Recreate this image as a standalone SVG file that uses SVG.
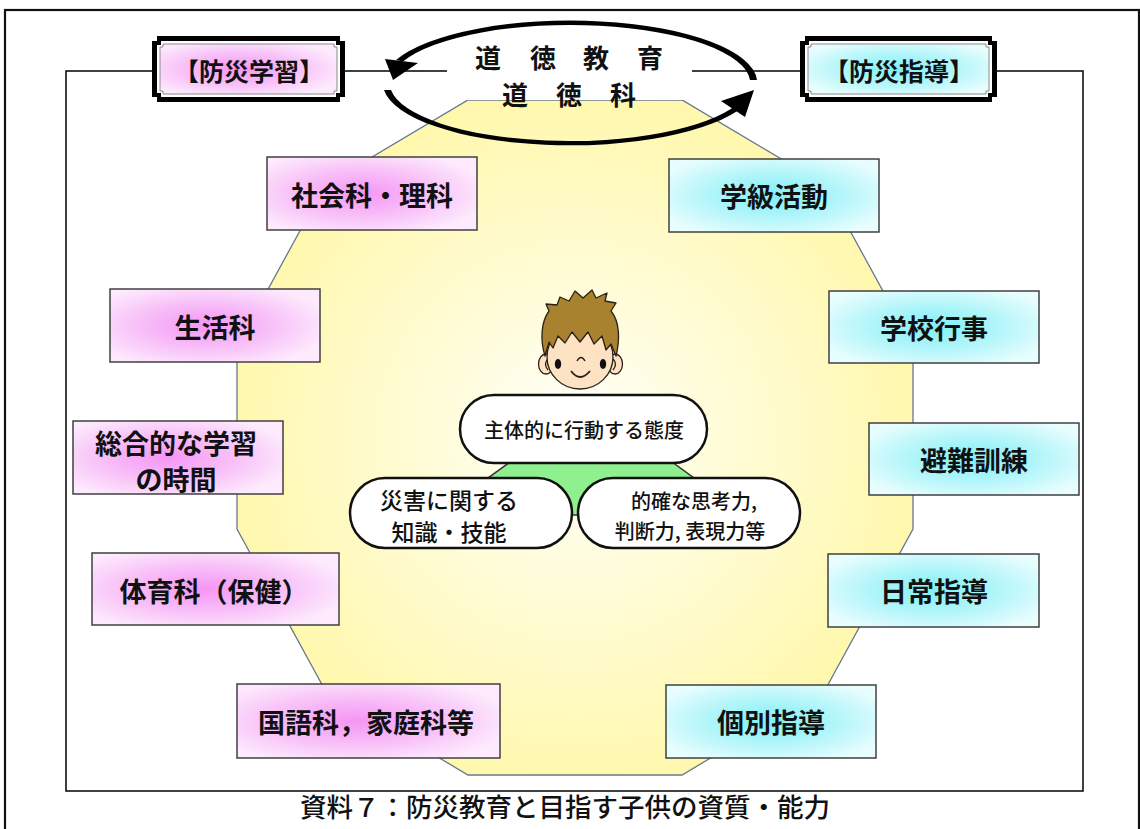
<svg xmlns="http://www.w3.org/2000/svg" width="1140" height="829" viewBox="0 0 1140 829">
  <style>
    .jp { font-family: "Noto Sans CJK JP", "Noto Sans", sans-serif; fill: #111; }
    .lbl { font-size: 27px; font-weight: 700; text-anchor: middle; dominant-baseline: central; }
    .hdr { font-size: 25px; font-weight: 700; text-anchor: middle; dominant-baseline: central; }
    .moral { font-size: 26px; font-weight: 700; text-anchor: middle; dominant-baseline: central; }
    .bub { font-weight: 500; text-anchor: middle; dominant-baseline: central; }
    .box { stroke: #404040; stroke-width: 1.5; }
    .pill { fill: #fff; stroke: #111; stroke-width: 2.5; }
    .frame { fill: none; stroke: #111; }
  </style>
  <defs>
    <radialGradient id="pinkFill" cx="45%" cy="50%" r="60%">
      <stop offset="0" stop-color="#f595f5"/>
      <stop offset="0.55" stop-color="#f8c2f8"/>
      <stop offset="1" stop-color="#fdeafd"/>
    </radialGradient>
    <radialGradient id="cyanFill" cx="50%" cy="50%" r="60%">
      <stop offset="0" stop-color="#7ef0f8"/>
      <stop offset="0.55" stop-color="#b6f6fa"/>
      <stop offset="1" stop-color="#e8fdfe"/>
    </radialGradient>
    <radialGradient id="fieldFill" cx="575" cy="440" r="380" gradientUnits="userSpaceOnUse">
      <stop offset="0" stop-color="#ffffff"/>
      <stop offset="0.3" stop-color="#fffde0"/>
      <stop offset="1" stop-color="#fff7a6"/>
    </radialGradient>
  </defs>

  <rect width="1140" height="829" fill="#fff"/>

  <!-- outer page border -->
  <rect class="frame" x="5" y="10" width="1134" height="830" stroke-width="2.2"/>

  <!-- connectors: the frame linking the two headings -->
  <g id="connectors">
    <rect class="frame" x="66" y="71" width="1017" height="720" stroke-width="1.6"/>
  </g>

  <!-- central field -->
  <g id="field">
    <polygon points="468,100 682,100 825,185 913,346 913,529 825,690 682,775 468,775 325,690 237,529 237,346 325,185"
             fill="url(#fieldFill)" stroke="#687890" stroke-width="1.3"/>
  </g>

  <!-- moral education cycle -->
  <g id="moral-cycle">
    <rect x="447" y="42" width="245" height="58" fill="#fff"/>
    <!-- upper arc, right to left -->
    <path d="M757,80 A187,62 0 0 0 396,60 L403,61.5 A180,58 0 0 1 750,80 Z" fill="#000"/>
    <polygon points="385,59 418,63 393,80" fill="#000"/>
    <!-- lower arc, left to right -->
    <path d="M384,90 A187,62 0 0 0 744,106 L737,104.5 A180,58 0 0 1 391,90 Z" fill="#000"/>
    <polygon points="721,101 745,117 754,90" fill="#000"/>
    <text class="jp moral" x="488 543 596 650" y="56">道徳教育</text>
    <text class="jp moral" x="515 569 623" y="93">道徳科</text>
  </g>

  <!-- headings -->
  <g id="head-learning">
    <path d="M157,36 H340 V41 H345 V97 H340 V102 H157 V97 H152 V41 H157 Z" fill="#000"/>
    <path d="M161,41 H336 V45 H340 V93 H336 V97 H161 V93 H157 V45 H161 Z" fill="#fff"/>
    <path d="M163,44 H334 V47 H337 V91 H334 V94 H163 V91 H160 V47 H163 Z" fill="url(#pinkFill)" stroke="#8a8a8a" stroke-width="1"/>
    <text class="jp hdr" x="249" y="70">【防災学習】</text>
  </g>
  <g id="head-guidance">
    <path d="M805,36 H992 V41 H997 V97 H992 V102 H805 V97 H800 V41 H805 Z" fill="#000"/>
    <path d="M809,41 H988 V45 H992 V93 H988 V97 H809 V93 H805 V45 H809 Z" fill="#fff"/>
    <path d="M811,44 H986 V47 H989 V91 H986 V94 H811 V91 H808 V47 H811 Z" fill="url(#cyanFill)" stroke="#8a8a8a" stroke-width="1"/>
    <text class="jp hdr" x="899" y="70">【防災指導】</text>
  </g>

  <!-- learning subjects -->
  <g id="social-science">
    <rect class="box" x="267" y="157" width="210" height="73" fill="url(#pinkFill)"/>
    <text class="jp lbl" x="372" y="194">社会科・理科</text>
  </g>
  <g id="life-environment">
    <rect class="box" x="110" y="289" width="210" height="73" fill="url(#pinkFill)"/>
    <text class="jp lbl" x="215" y="326">生活科</text>
  </g>
  <g id="integrated-study">
    <rect class="box" x="73" y="421" width="210" height="73" fill="url(#pinkFill)"/>
    <text class="jp lbl" x="176" y="442">総合的な学習</text>
    <text class="jp lbl" x="176" y="478">の時間</text>
  </g>
  <g id="physical-education">
    <rect class="box" x="92" y="553" width="247" height="72" fill="url(#pinkFill)"/>
    <text class="jp lbl" x="214" y="590">体育科（保健）</text>
  </g>
  <g id="language-home">
    <rect class="box" x="237" y="684" width="263" height="74" fill="url(#pinkFill)"/>
    <text class="jp lbl" x="366" y="721">国語科，家庭科等</text>
  </g>

  <!-- guidance activities -->
  <g id="class-activity">
    <rect class="box" x="669" y="159" width="210" height="73" fill="url(#cyanFill)"/>
    <text class="jp lbl" x="774" y="195">学級活動</text>
  </g>
  <g id="school-event">
    <rect class="box" x="829" y="291" width="210" height="72" fill="url(#cyanFill)"/>
    <text class="jp lbl" x="934" y="327">学校行事</text>
  </g>
  <g id="evacuation-drill">
    <rect class="box" x="869" y="423" width="210" height="72" fill="url(#cyanFill)"/>
    <text class="jp lbl" x="974" y="459">避難訓練</text>
  </g>
  <g id="daily-guidance">
    <rect class="box" x="828" y="554" width="211" height="73" fill="url(#cyanFill)"/>
    <text class="jp lbl" x="934" y="590">日常指導</text>
  </g>
  <g id="individual-guidance">
    <rect class="box" x="666" y="685" width="210" height="73" fill="url(#cyanFill)"/>
    <text class="jp lbl" x="771" y="721">個別指導</text>
  </g>

  <!-- child -->
  <g id="child" stroke="#2a2018" stroke-width="1.3" stroke-linejoin="round">
    <ellipse cx="546" cy="364" rx="7.5" ry="10" fill="#fde2c4"/>
    <ellipse cx="615" cy="364" rx="7.5" ry="10" fill="#fde2c4"/>
    <path d="M548,359 Q543,364 548,370" fill="none"/>
    <path d="M613,359 Q618,364 613,370" fill="none"/>
    <ellipse cx="580" cy="357" rx="33" ry="32" fill="#fde2c4"/>
    <path d="M545,356 C540,340 541,322 549,311 L546,304 L557,305 L560,297 L569,301 L575,291 L583,298 L592,290 L596,298 L607,293 L605,301 L616,303 L611,311 C620,322 620,340 616,356 L611,344 L606,350 L602,336 L594,344 L588,332 L580,342 L572,332 L565,343 L558,336 L553,348 L549,342 Z"
          fill="#a8822e"/>
    <ellipse cx="558" cy="364" rx="3.2" ry="5" fill="#111" stroke="none"/>
    <ellipse cx="603" cy="364" rx="3.2" ry="5" fill="#111" stroke="none"/>
    <path d="M577,361 Q581,354 585,361" fill="none" stroke-width="1.5"/>
    <path d="M571,371 Q580,383 590,371" fill="none" stroke-width="1.8"/>
  </g>

  <!-- qualities -->
  <g id="qualities-base">
    <polygon points="510,462 672,462 745,515 437,515" fill="#8ff08f" stroke="#333" stroke-width="1.5"/>
  </g>
  <g id="attitude">
    <rect class="pill" x="460" y="395" width="247" height="68" rx="34"/>
    <text class="jp bub" x="584" y="429" font-size="20">主体的に行動する態度</text>
  </g>
  <g id="knowledge">
    <rect class="pill" x="350" y="478" width="222" height="70" rx="35"/>
    <text class="jp bub" x="449" y="499" font-size="23">災害に関する</text>
    <text class="jp bub" x="449" y="531" font-size="23">知識・技能</text>
  </g>
  <g id="thinking">
    <rect class="pill" x="578" y="478" width="222" height="70" rx="35"/>
    <text class="jp bub" x="694" y="500" font-size="20">的確な思考力,</text>
    <text class="jp bub" x="690" y="530" font-size="20">判断力, 表現力等</text>
  </g>

  <!-- caption -->
  <text class="jp" x="300" y="817" font-size="26" font-weight="500" textLength="530" lengthAdjust="spacingAndGlyphs">資料７：防災教育と目指す子供の資質・能力</text>
</svg>
